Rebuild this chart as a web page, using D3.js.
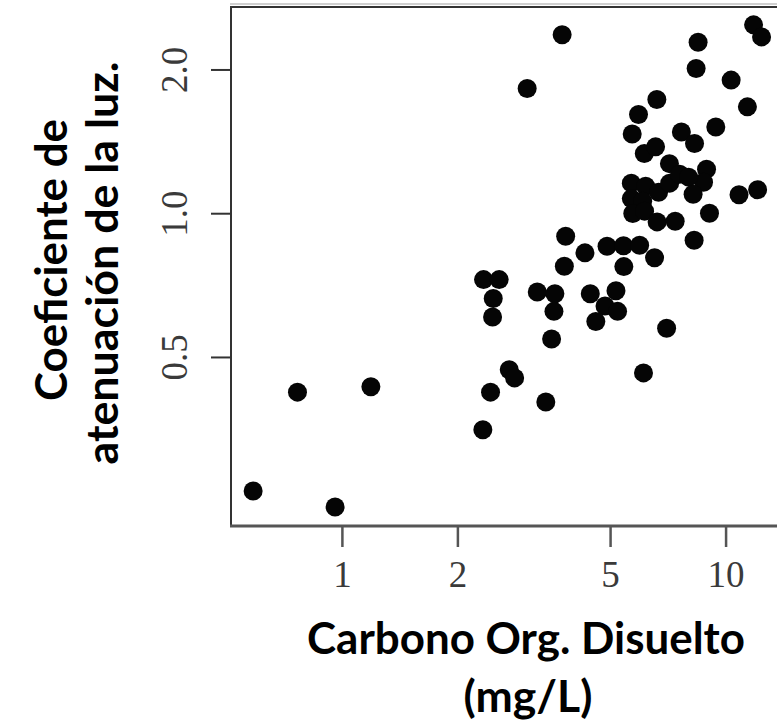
<!DOCTYPE html>
<html>
<head>
<meta charset="utf-8">
<script src="https://cdn.jsdelivr.net/npm/d3@7"></script>
<style>
  html, body { margin: 0; padding: 0; background: #fff; }
  svg { display: block; }
</style>
</head>
<body>
<svg id="chart" width="777" height="723"></svg>
<script>
// ---- data ----
const docValues = [3.75, 3.04, 8.48, 8.38, 10.34, 11.83, 12.41, 6.62, 5.93, 11.40,
  5.71, 7.67, 8.30, 9.43, 6.14, 6.57, 7.14, 8.92, 8.76, 5.68,
  6.19, 5.68, 6.08, 5.73, 6.15, 6.69, 7.15, 7.59, 8.01, 8.23,
  10.84, 12.12, 9.08, 6.63, 7.39, 8.28, 3.83, 4.30, 3.80, 4.91,
  5.42, 5.97, 5.43, 6.53, 2.34, 2.57, 2.48, 2.47, 3.23, 3.59,
  3.57, 3.52, 4.44, 5.18, 4.85, 5.23, 4.59, 7.02, 6.11, 0.766,
  1.19, 0.587, 0.960, 2.44, 2.33, 2.73, 2.82, 3.40];
const attenValues = [2.365, 1.825, 2.28, 2.01, 1.90, 2.48, 2.34, 1.73, 1.61, 1.67,
  1.465, 1.48, 1.40, 1.516, 1.334, 1.377, 1.27, 1.236, 1.161, 1.156,
  1.139, 1.073, 1.06, 0.999, 1.01, 1.106, 1.156, 1.207, 1.19, 1.096,
  1.093, 1.12, 1.00, 0.959, 0.962, 0.878, 0.895, 0.826, 0.774, 0.853,
  0.855, 0.857, 0.773, 0.807, 0.726, 0.726, 0.663, 0.606, 0.684, 0.678,
  0.623, 0.545, 0.678, 0.688, 0.639, 0.623, 0.593, 0.574, 0.463, 0.422,
  0.433, 0.262, 0.2425, 0.422, 0.352, 0.470, 0.452, 0.4025];
const xTickValues = [1, 2, 5, 10];
const xTickLabels = ["1", "2", "5", "10"];
const yTickValues = [0.5, 1.0, 2.0];
const yTickLabels = ["0.5", "1.0", "2.0"];
const xTitleLines = ["Carbono Org. Disuelto", "(mg/L)"];
const yTitleLines = ["Coeficiente de", "atenuación de la luz."];

// ---- layout ----
const svg = d3.select("#chart");
const plot = { left: 231, right: 782, top: 6, bottom: 526 };

const x = d3.scaleLog().domain([0.514, 14.03]).range([plot.left, plot.right]);
const y = d3.scaleLog().domain([0.2213, 2.716]).range([plot.bottom, plot.top]);

// points
const pts = docValues.map((d, i) => ({ x: d, y: attenValues[i] }));
svg.append("g")
  .selectAll("circle")
  .data(pts)
  .join("circle")
  .attr("cx", d => x(d.x))
  .attr("cy", d => y(d.y))
  .attr("r", 9.5)
  .attr("fill", "#050505");

// frame
svg.append("line").attr("x1", plot.left - 1).attr("x2", 800).attr("y1", 4).attr("y2", 4)
  .attr("stroke", "#d0d0d0").attr("stroke-width", 2);
svg.append("line").attr("x1", plot.left - 1).attr("x2", 800).attr("y1", plot.top + 1).attr("y2", plot.top + 1)
  .attr("stroke", "#333").attr("stroke-width", 2);
svg.append("line").attr("x1", plot.left).attr("x2", plot.left).attr("y1", plot.top).attr("y2", plot.bottom + 1)
  .attr("stroke", "#333").attr("stroke-width", 2);

// x axis
const xAxis = d3.axisBottom(x).tickValues(xTickValues)
  .tickFormat((d, i) => xTickLabels[i]).tickSize(21).tickSizeOuter(0);
const gx = svg.append("g").attr("transform", `translate(0,${plot.bottom})`).call(xAxis);
gx.select(".domain").attr("d", `M${plot.left - 1},0H800`).attr("stroke", "#555").attr("stroke-width", 3);
gx.selectAll(".tick line").attr("stroke", "#555").attr("stroke-width", 2.5);
gx.selectAll(".tick text")
  .attr("y", 61).attr("dy", 0)
  .attr("font-family", "'Liberation Serif', 'DejaVu Serif', serif")
  .attr("font-size", 37).attr("fill", "#3a3a3a");

// y axis
const yAxis = d3.axisLeft(y).tickValues(yTickValues)
  .tickFormat((d, i) => yTickLabels[i]).tickSize(20).tickSizeOuter(0);
const gy = svg.append("g").attr("transform", `translate(${plot.left},0)`).call(yAxis);
gy.select(".domain").remove();
gy.selectAll(".tick line").attr("stroke", "#333").attr("stroke-width", 2);
gy.selectAll(".tick text")
  .attr("transform", "rotate(-90)")
  .attr("x", 0).attr("y", -44).attr("dy", 0)
  .attr("text-anchor", "middle")
  .attr("font-family", "'Liberation Serif', 'DejaVu Serif', serif")
  .attr("font-size", 37).attr("fill", "#3a3a3a");

// titles
function fit(sel, target) {
  const w = sel.node().getComputedTextLength();
  const fs = parseFloat(sel.attr("font-size"));
  if (w > 0) sel.attr("font-size", fs * target / w);
}
const titleFont = "Lato, 'Open Sans', 'DejaVu Sans', sans-serif";

const xt1 = svg.append("text").attr("x", 526).attr("y", 654).attr("text-anchor", "middle")
  .attr("font-family", titleFont).attr("font-weight", 700).attr("font-size", 44).attr("fill", "#000")
  .text(xTitleLines[0]);
fit(xt1, 438);
const xt2 = svg.append("text").attr("x", 528).attr("y", 712).attr("text-anchor", "middle")
  .attr("font-family", titleFont).attr("font-weight", 700).attr("font-size", 44).attr("fill", "#000")
  .text(xTitleLines[1]);
fit(xt2, 129);

const yt1 = svg.append("text").attr("transform", "translate(67,260) rotate(-90)").attr("text-anchor", "middle")
  .attr("font-family", titleFont).attr("font-weight", 700).attr("font-size", 44).attr("fill", "#000")
  .text(yTitleLines[0]);
fit(yt1, 282);
const yt2 = svg.append("text").attr("transform", "translate(118,263) rotate(-90)").attr("text-anchor", "middle")
  .attr("font-family", titleFont).attr("font-weight", 700).attr("font-size", 44).attr("fill", "#000")
  .text(yTitleLines[1]);
fit(yt2, 403);
</script>
</body>
</html>
